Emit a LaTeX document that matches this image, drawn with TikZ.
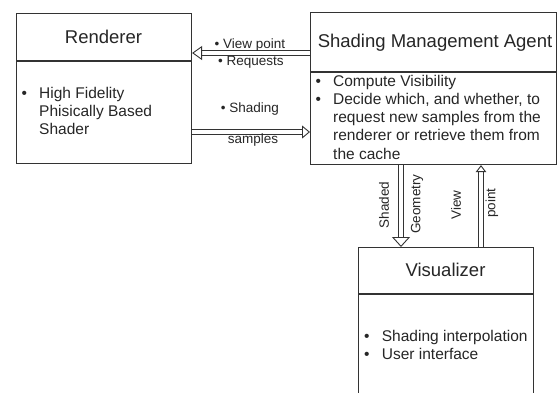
\documentclass[tikz,border=0pt]{standalone}
\usepackage{fontspec}
\setmainfont{Liberation Sans}
\usetikzlibrary{arrows.meta}
\newcommand{\itemdot}{\makebox[17.7pt][l]{\textbullet}}
\begin{document}
\begin{tikzpicture}[x=1pt,y=-1pt,
  box/.style={draw=black!80, line width=1.1pt, inner sep=0pt, anchor=north west},
  title/.style={anchor=base, text=black!85, font=\fontsize{18.5}{22}\selectfont},
  body/.style={anchor=base west, inner sep=0pt, text=black!85, font=\fontsize{15.5}{18.3}\selectfont},
  lbl/.style={inner sep=0pt, text=black!85, font=\fontsize{13.5}{16}\selectfont},
  flow/.style={draw=black!80, line width=0.9pt, double=white, double distance=3.6pt,
    -{Triangle[open, length=#1, fill=white]}},
  flow/.default={9pt, width=13pt},
]
\useasboundingbox (0,0) rectangle (558,392);
\clip (0,0) rectangle (558,392);
\fill[white] (0,0) rectangle (558,392);

% boxes
\node[box, minimum width=175pt, minimum height=150pt] (ren) at (16,13) {};
\node[box, minimum width=246pt, minimum height=152pt] (sma) at (310,12) {};
\node[box, minimum width=175pt, minimum height=160pt] (vis) at (358,247) {};

% title separators
\draw[draw=black!80, line width=1.1pt] (ren.west |- 0,61) -- (ren.east |- 0,61);
\draw[draw=black!80, line width=1.1pt] (sma.west |- 0,72) -- (sma.east |- 0,72);
\draw[draw=black!80, line width=1.1pt] (vis.west |- 0,294) -- (vis.east |- 0,294);

% titles
\node[title] (renT) at (103.5,43) {Renderer};
\node[title] (smaT) at (435,47) {Shading Management Agent};
\node[title] (visT) at (445.5,276) {Visualizer};

% contents
\node[body] (renB) at (21.3,98) {\begin{tabular}[t]{@{}l@{}}
  \itemdot High Fidelity\\
  \hspace*{17.7pt}Phisically Based\\
  \hspace*{17.7pt}Shader
\end{tabular}};
\node[body] (smaB) at (315.3,86) {\begin{tabular}[t]{@{}l@{}}
  \itemdot Compute Visibility\\
  \itemdot Decide which, and whether, to\\
  \hspace*{17.7pt}request new samples from the\\
  \hspace*{17.7pt}renderer or retrieve them from\\
  \hspace*{17.7pt}the cache
\end{tabular}};
\node[body] (visB) at (364,341) {\begin{tabular}[t]{@{}l@{}}
  \itemdot Shading interpolation\\
  \itemdot User interface
\end{tabular}};

% connectors
\draw[flow={10pt, width=14pt}] (sma.west |- 0,53) -- (ren.east |- 0,53);
\draw[flow={8pt, width=13pt}] (ren.east |- 0,132) -- (sma.west |- 0,132);
\draw[flow={10pt, width=18pt}] (sma.south -| 401,0) -- (vis.north -| 401,0);
\draw[flow={7pt, width=10.5pt}] (vis.north -| 481,0) -- (sma.south -| 481,0);

% connector labels
\node[lbl, anchor=base] (l1) at (250,48) {\textbullet\ View point};
\node[lbl, anchor=base] (l2) at (251,65) {\textbullet\ Requests};
\node[lbl, anchor=base] (l3) at (250,112) {\textbullet\ Shading};
\node[lbl, anchor=base] (l4) at (253,143) {samples};
\node[lbl, rotate=90] (l5) at (384,205) {Shaded};
\node[lbl, rotate=90] (l6) at (417,204) {Geometry};
\node[lbl, rotate=90] (l7) at (456,205) {View};
\node[lbl, rotate=90] (l8) at (492,203) {point};
\end{tikzpicture}
\end{document}
